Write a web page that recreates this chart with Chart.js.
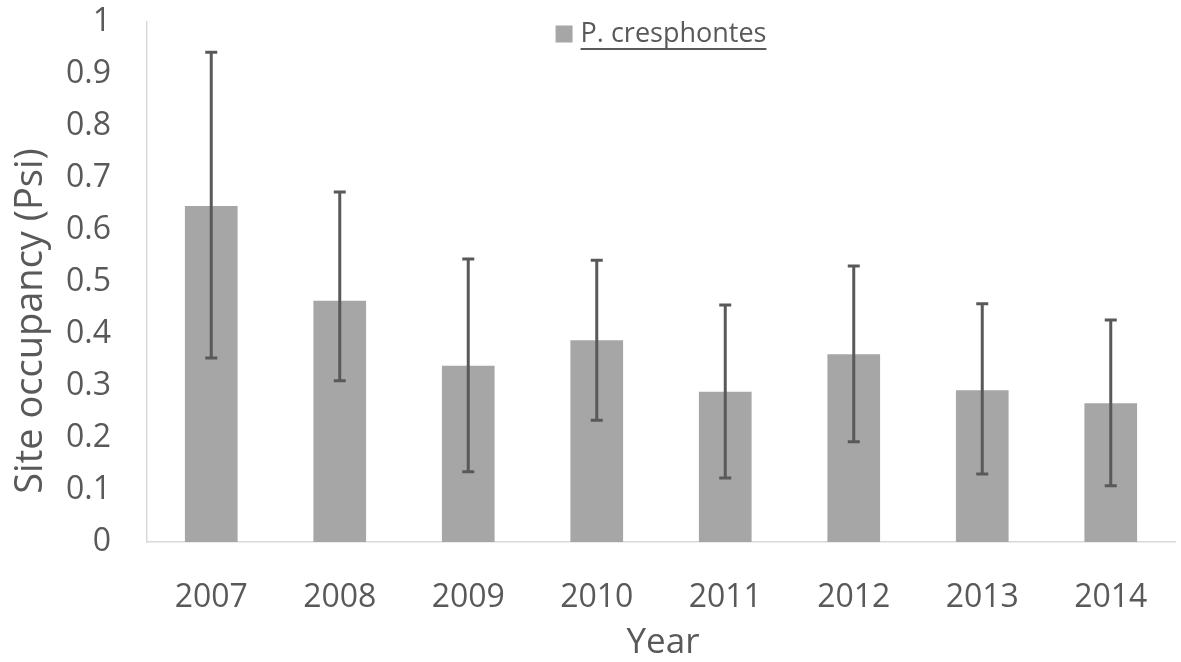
<!DOCTYPE html>
<html>
<head>
<meta charset="utf-8">
<script src="https://cdn.jsdelivr.net/npm/chart.js@4"></script>
<style>
  html, body { margin: 0; padding: 0; background: #fff; }
  #wrap { width: 1181px; height: 662px; }
</style>
</head>
<body>
<div id="wrap"><canvas id="occupancyChart" width="1181" height="662"></canvas></div>
<script>
// Data
const years = ['2007', '2008', '2009', '2010', '2011', '2012', '2013', '2014'];
const psi = [0.646, 0.464, 0.339, 0.388, 0.289, 0.361, 0.292, 0.267];
const psiUpper = [0.942, 0.673, 0.544, 0.542, 0.456, 0.531, 0.458, 0.427];
const psiLower = [0.354, 0.310, 0.135, 0.234, 0.123, 0.193, 0.131, 0.108];
const yTicks = [0, 0.1, 0.2, 0.3, 0.4, 0.5, 0.6, 0.7, 0.8, 0.9, 1];
const xTitle = 'Year';
const yTitle = 'Site occupancy (Psi)';

const textColor = '#595959';
const axisColor = '#d9d9d9';
const barColor = '#a6a6a6';
const fontFamily = '"Open Sans", "Noto Sans", sans-serif';

// Error bars drawn through the scales
const errorBars = {
    id: 'errorBars',
    afterDatasetsDraw(chart) {
        const ctx = chart.ctx;
        const x = chart.scales.x;
        const y = chart.scales.y;
        ctx.save();
        ctx.strokeStyle = '#595959';
        ctx.lineWidth = 3;
        psi.forEach((v, i) => {
            const px = x.getPixelForValue(i);
            const top = y.getPixelForValue(psiUpper[i]);
            const bot = y.getPixelForValue(psiLower[i]);
            ctx.beginPath();
            ctx.moveTo(px, top);
            ctx.lineTo(px, bot);
            ctx.moveTo(px - 6, top);
            ctx.lineTo(px + 6, top);
            ctx.moveTo(px - 6, bot);
            ctx.lineTo(px + 6, bot);
            ctx.stroke();
        });
        ctx.restore();
    }
};

// Legend sits inside the plot, label underlined; axis titles placed like the original
const insideLegend = {
    id: 'insideLegend',
    afterDraw(chart) {
        const ctx = chart.ctx;
        const ds = chart.data.datasets[0];
        const area = chart.chartArea;
        ctx.save();
        ctx.font = '27px ' + fontFamily;
        const tw = ctx.measureText(ds.label).width;
        const box = 17;
        const gap = 8;
        const total = box + gap + tw;
        const left = (area.left + area.right) / 2 - total / 2;
        const cy = area.top + 12;
        ctx.fillStyle = ds.backgroundColor;
        ctx.fillRect(left, cy - box / 2, box, box);
        ctx.fillStyle = textColor;
        ctx.textBaseline = 'middle';
        ctx.textAlign = 'left';
        const tx = left + box + gap;
        ctx.fillText(ds.label, tx, cy);
        ctx.fillRect(tx, cy + 14, tw, 2);

        // axis titles
        ctx.textAlign = 'center';
        ctx.font = '35px ' + fontFamily;
        ctx.fillText(xTitle, (area.left + area.right) / 2 + 2, 643);
        ctx.translate(31, 321);
        ctx.rotate(-Math.PI / 2);
        ctx.font = '38px ' + fontFamily;
        ctx.fillText(yTitle, 0, 0);
        ctx.restore();
    }
};

new Chart(document.getElementById('occupancyChart').getContext('2d'), {
    type: 'bar',
    data: {
        labels: years,
        datasets: [{
            label: 'P. cresphontes',
            data: psi,
            backgroundColor: barColor,
            borderWidth: 0,
            barPercentage: 0.41,
            categoryPercentage: 1
        }]
    },
    options: {
        responsive: false,
        animation: false,
        layout: { padding: { top: 22, right: 6, left: 0, bottom: 0 } },
        plugins: {
            legend: { display: false },
            tooltip: { enabled: false }
        },
        scales: {
            x: {
                grid: { display: false, drawTicks: false },
                border: { color: axisColor, width: 1.5 },
                ticks: {
                    color: textColor,
                    font: { family: fontFamily, size: 32 },
                    padding: 37
                },
                afterFit(scale) {
                    scale.height = 120;
                    scale.paddingLeft = 0;
                    scale.paddingRight = 0;
                }
            },
            y: {
                min: 0,
                max: 1,
                afterBuildTicks(scale) {
                    scale.ticks = yTicks.map(v => ({ value: v }));
                },
                grid: { display: false, drawTicks: false },
                border: { color: axisColor, width: 1.5 },
                ticks: {
                    color: textColor,
                    font: { family: fontFamily, size: 32 },
                    padding: 36,
                    callback: v => String(Math.round(v * 10) / 10)
                },
                afterFit(scale) {
                    scale.width = 147;
                    scale.paddingTop = 0;
                    scale.paddingBottom = 0;
                }
            }
        }
    },
    plugins: [errorBars, insideLegend]
});
</script>
</body>
</html>
